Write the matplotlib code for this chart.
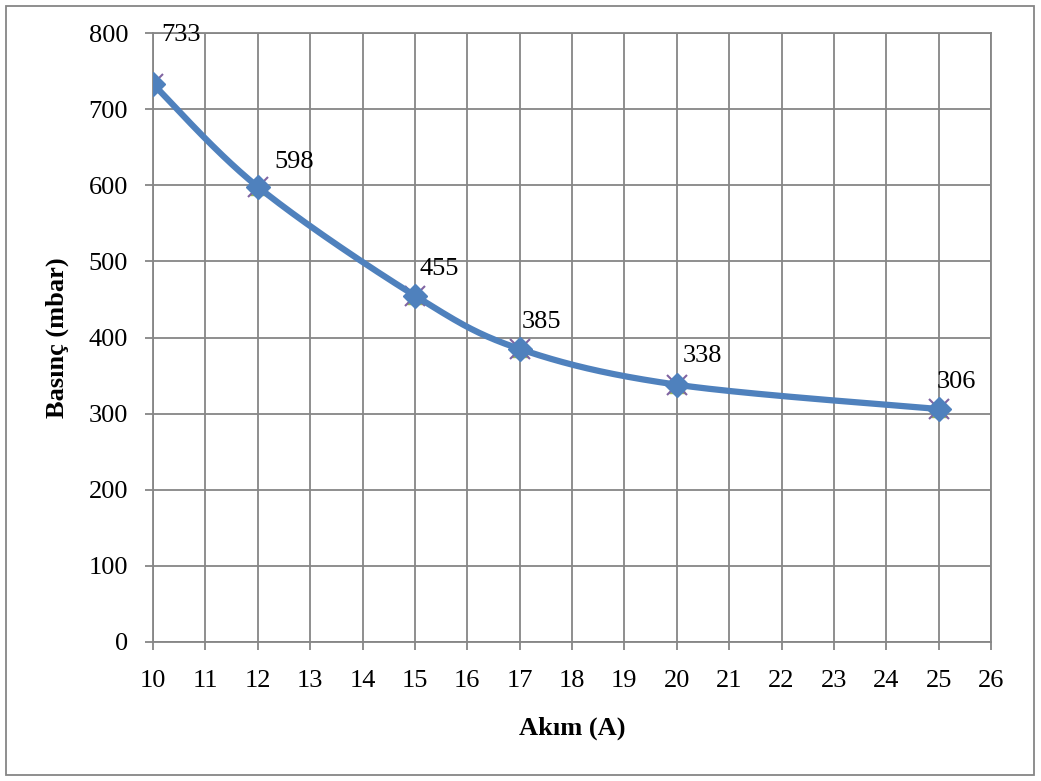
import numpy as np
import matplotlib
matplotlib.use("Agg")
import matplotlib.pyplot as plt
from matplotlib.patches import Rectangle

akim = [10, 12, 15, 17, 20, 25]
basinc = [733, 598, 455, 385, 338, 306]
value_labels = ["733", "598", "455", "385", "338", "306"]
x_ticks = list(range(10, 27))
y_ticks = list(range(0, 801, 100))

# label offsets in pixels (dx, dy) relative to the point
label_offsets = [(8, 38), (17, 14), (5, 16), (2, 16), (6, 18), (-2, 16)]

plt.rcParams['font.family'] = ['Liberation Serif', 'DejaVu Serif']

fig = plt.figure(figsize=(10.41, 7.81), dpi=100)
ax = fig.add_axes([153/1041, 1-642/781, (991-153)/1041, (642-33)/781])
ax.set_xlim(10, 26)
ax.set_ylim(0, 800)

grid_c = '#868686'
ax.set_xticks(x_ticks)
ax.set_yticks(y_ticks)
ax.grid(True, color=grid_c, linewidth=1.3)
ax.set_axisbelow(True)
for s in ax.spines.values():
    s.set_color(grid_c)
    s.set_linewidth(1.3)
ax.tick_params(axis='both', color=grid_c, width=1.3, length=6, labelsize=19)
ax.tick_params(axis='y', pad=12)
ax.tick_params(axis='x', pad=14)

ax.set_xlabel("Akım (A)", fontsize=19, fontweight='bold', labelpad=18)
ax.set_ylabel("Basınç (mbar)", fontsize=19, fontweight='bold', labelpad=14)

# Excel-style smooth curve (Bezier through points, computed in display space)
fig.canvas.draw()
pts = ax.transData.transform(np.column_stack([akim, basinc]))
n = len(pts)
curve = []
for i in range(n - 1):
    p0 = pts[i - 1] if i > 0 else pts[i]
    p1 = pts[i]
    p2 = pts[i + 1]
    p3 = pts[i + 2] if i + 2 < n else pts[i + 1]
    c1 = p1 + (p2 - p0) / 6.0
    c2 = p2 - (p3 - p1) / 6.0
    t = np.linspace(0, 1, 60)[:, None]
    seg = ((1 - t) ** 3) * p1 + 3 * ((1 - t) ** 2) * t * c1 + 3 * (1 - t) * t ** 2 * c2 + t ** 3 * p2
    curve.append(seg if i == 0 else seg[1:])
curve = np.vstack(curve)
curve_data = ax.transData.inverted().transform(curve)

ax.plot(akim, basinc, linestyle='none', marker='^', markersize=12, color='#9BBB59', zorder=3)
ax.plot(akim, basinc, linestyle='none', marker='x', markersize=14, markeredgewidth=1.5, color='#8064A2', zorder=3)
ax.plot(curve_data[:, 0], curve_data[:, 1], color='#4F81BD', linewidth=4.5, solid_capstyle='round', zorder=4)
ax.plot(akim, basinc, linestyle='none', marker='D', markersize=12, color='#4F81BD', zorder=5)

for xv, yv, lab, (dx, dy) in zip(akim, basinc, value_labels, label_offsets):
    ax.annotate(lab, (xv, yv), xytext=(dx * 0.72, dy * 0.72), textcoords='offset points',
                ha='left', va='bottom', fontsize=19, zorder=6, annotation_clip=False)

fig.patches.append(Rectangle((6/1041, 6/781), 1028/1041, 769/781, transform=fig.transFigure,
                             fill=False, edgecolor='#868686', linewidth=1.3))

fig.savefig("out.png", dpi=100)
